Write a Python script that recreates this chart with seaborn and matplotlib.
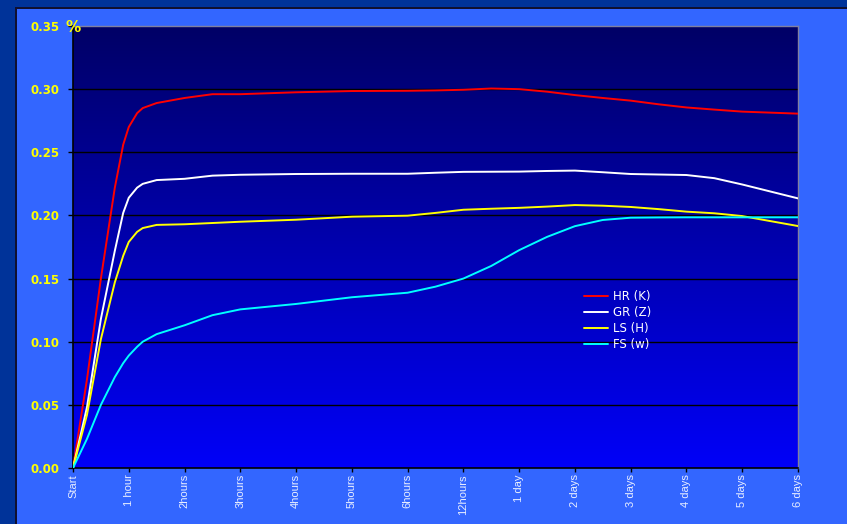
import numpy as np
import pandas as pd
import matplotlib
matplotlib.use("Agg")
import matplotlib.pyplot as plt
import seaborn as sns
from matplotlib.patches import Rectangle
from matplotlib.colors import LinearSegmentedColormap

# x positions are in category units (0 = Start ... 13 = 6 days)
x_pos = [0, 0.25, 0.5, 0.75, 0.9, 1, 1.15, 1.25, 1.5, 2, 2.5, 3, 4, 5, 6, 6.5,
         7, 7.5, 8, 8.5, 9, 9.5, 10, 10.5, 11, 11.5, 12, 13]
hr_k = [0, 0.070, 0.150, 0.222, 0.256, 0.270, 0.281, 0.285, 0.289, 0.293,
        0.296, 0.296, 0.2975, 0.2985, 0.2987, 0.299, 0.2995, 0.3005, 0.300,
        0.298, 0.2953, 0.293, 0.2909, 0.288, 0.2855, 0.2838, 0.2822, 0.2806]
gr_z = [0, 0.048, 0.118, 0.172, 0.202, 0.214, 0.222, 0.225, 0.228, 0.229,
        0.2315, 0.2322, 0.2328, 0.233, 0.233, 0.2338, 0.2345, 0.2346, 0.2347,
        0.2352, 0.2355, 0.2342, 0.2328, 0.2324, 0.232, 0.2295, 0.2245, 0.2135]
ls_h = [0, 0.042, 0.102, 0.147, 0.168, 0.179, 0.187, 0.190, 0.1925, 0.193,
        0.194, 0.195, 0.1966, 0.199, 0.1998, 0.202, 0.2045, 0.2053, 0.206,
        0.207, 0.2082, 0.2077, 0.2067, 0.205, 0.203, 0.2017, 0.1995, 0.1916]
fs_w = [0, 0.023, 0.050, 0.072, 0.083, 0.089, 0.096, 0.100, 0.106, 0.113,
        0.121, 0.1256, 0.1299, 0.1352, 0.1388, 0.1436, 0.150, 0.160, 0.1725,
        0.183, 0.1915, 0.1964, 0.1982, 0.1984, 0.1985, 0.1985, 0.1985, 0.1985]

x_labels = ["Start", "1 hour", "2hours", "3hours", "4hours", "5hours", "6hours",
            "12hours", "1 day", "2 days", "3 days", "4 days", "5 days", "6 days"]
y_ticks = [0.0, 0.05, 0.10, 0.15, 0.20, 0.25, 0.30, 0.35]

series = {"HR (K)": hr_k, "GR (Z)": gr_z, "LS (H)": ls_h, "FS (w)": fs_w}
colors = {"HR (K)": "#ff0000", "GR (Z)": "#ffffff", "LS (H)": "#ffff00", "FS (w)": "#00ffff"}

df = pd.concat([pd.DataFrame({"x": x_pos, "value": v, "series": k})
                for k, v in series.items()], ignore_index=True)

sns.set_style("white")
plt.rcParams["font.family"] = ["Liberation Sans", "DejaVu Sans"]

fig = plt.figure(figsize=(8.47, 5.24), dpi=100)
fig.patch.set_facecolor("#3366ff")

# slide frame: dark strips on left and top
fig.patches.append(Rectangle((0, 0), 15 / 847, 1, transform=fig.transFigure,
                             facecolor="#003399", edgecolor="none", zorder=0))
fig.patches.append(Rectangle((0, 1 - 7 / 524), 1, 7 / 524, transform=fig.transFigure,
                             facecolor="#003399", edgecolor="none", zorder=0))
fig.patches.append(Rectangle((15 / 847, 0), 1.5 / 847, 1 - 7 / 524, transform=fig.transFigure,
                             facecolor="#101030", edgecolor="none", zorder=1))
fig.patches.append(Rectangle((15 / 847, 1 - 8.5 / 524), 1, 1.5 / 524, transform=fig.transFigure,
                             facecolor="#101030", edgecolor="none", zorder=1))

ax = fig.add_axes([73 / 847, 56 / 524, 725 / 847, 442 / 524])

# gradient plot background
grad = LinearSegmentedColormap.from_list("bg", ["#0000f8", "#000066"])
ax.imshow(np.linspace(0, 1, 256)[:, None], cmap=grad, origin="lower",
          extent=[0, 1, 0, 1], transform=ax.transAxes, aspect="auto", zorder=0)

for yv in y_ticks[1:-1]:
    ax.axhline(yv, color="black", lw=1.0, zorder=1)

sns.lineplot(data=df, x="x", y="value", hue="series", palette=colors,
             linewidth=1.4, ax=ax, zorder=3, sort=False)

ax.set_xlim(0, 13)
ax.set_ylim(0, 0.35)
ax.set_xticks(range(len(x_labels)))
ax.set_xticklabels(x_labels, rotation=90, color="#e8eeff", fontsize=8)
ax.set_yticks(y_ticks)
ax.set_yticklabels([f"{v:.2f}" for v in y_ticks], color="#ffff00",
                   fontsize=8.5, fontweight="bold", family="DejaVu Sans")
ax.tick_params(bottom=True, left=True, direction="out", width=1, color="black")
ax.tick_params(axis="y", length=3.6, pad=5.8)
ax.tick_params(axis="x", length=2.9, pad=1.5)
ax.set_xlabel("")
ax.set_ylabel("")

for side in ["left", "bottom"]:
    ax.spines[side].set_color("black")
    ax.spines[side].set_linewidth(1.2)
for side in ["right", "top"]:
    ax.spines[side].set_color("#8080a0")
    ax.spines[side].set_linewidth(1.0)
    ax.spines[side].set_visible(True)

fig.text(73 / 847, 1 - 28 / 524, "%", color="#ffff00", fontsize=11,
         fontweight="bold", family="DejaVu Sans", ha="center", va="center")

leg = ax.legend(loc="upper left", bbox_to_anchor=(0.705, 0.403), frameon=False,
                prop={"family": "DejaVu Sans", "size": 8.5}, handlelength=2.0,
                handletextpad=0.42, labelspacing=0.26, borderpad=0, borderaxespad=0)
for t in leg.get_texts():
    t.set_color("white")

fig.savefig("out.png", dpi=100, facecolor=fig.get_facecolor())
